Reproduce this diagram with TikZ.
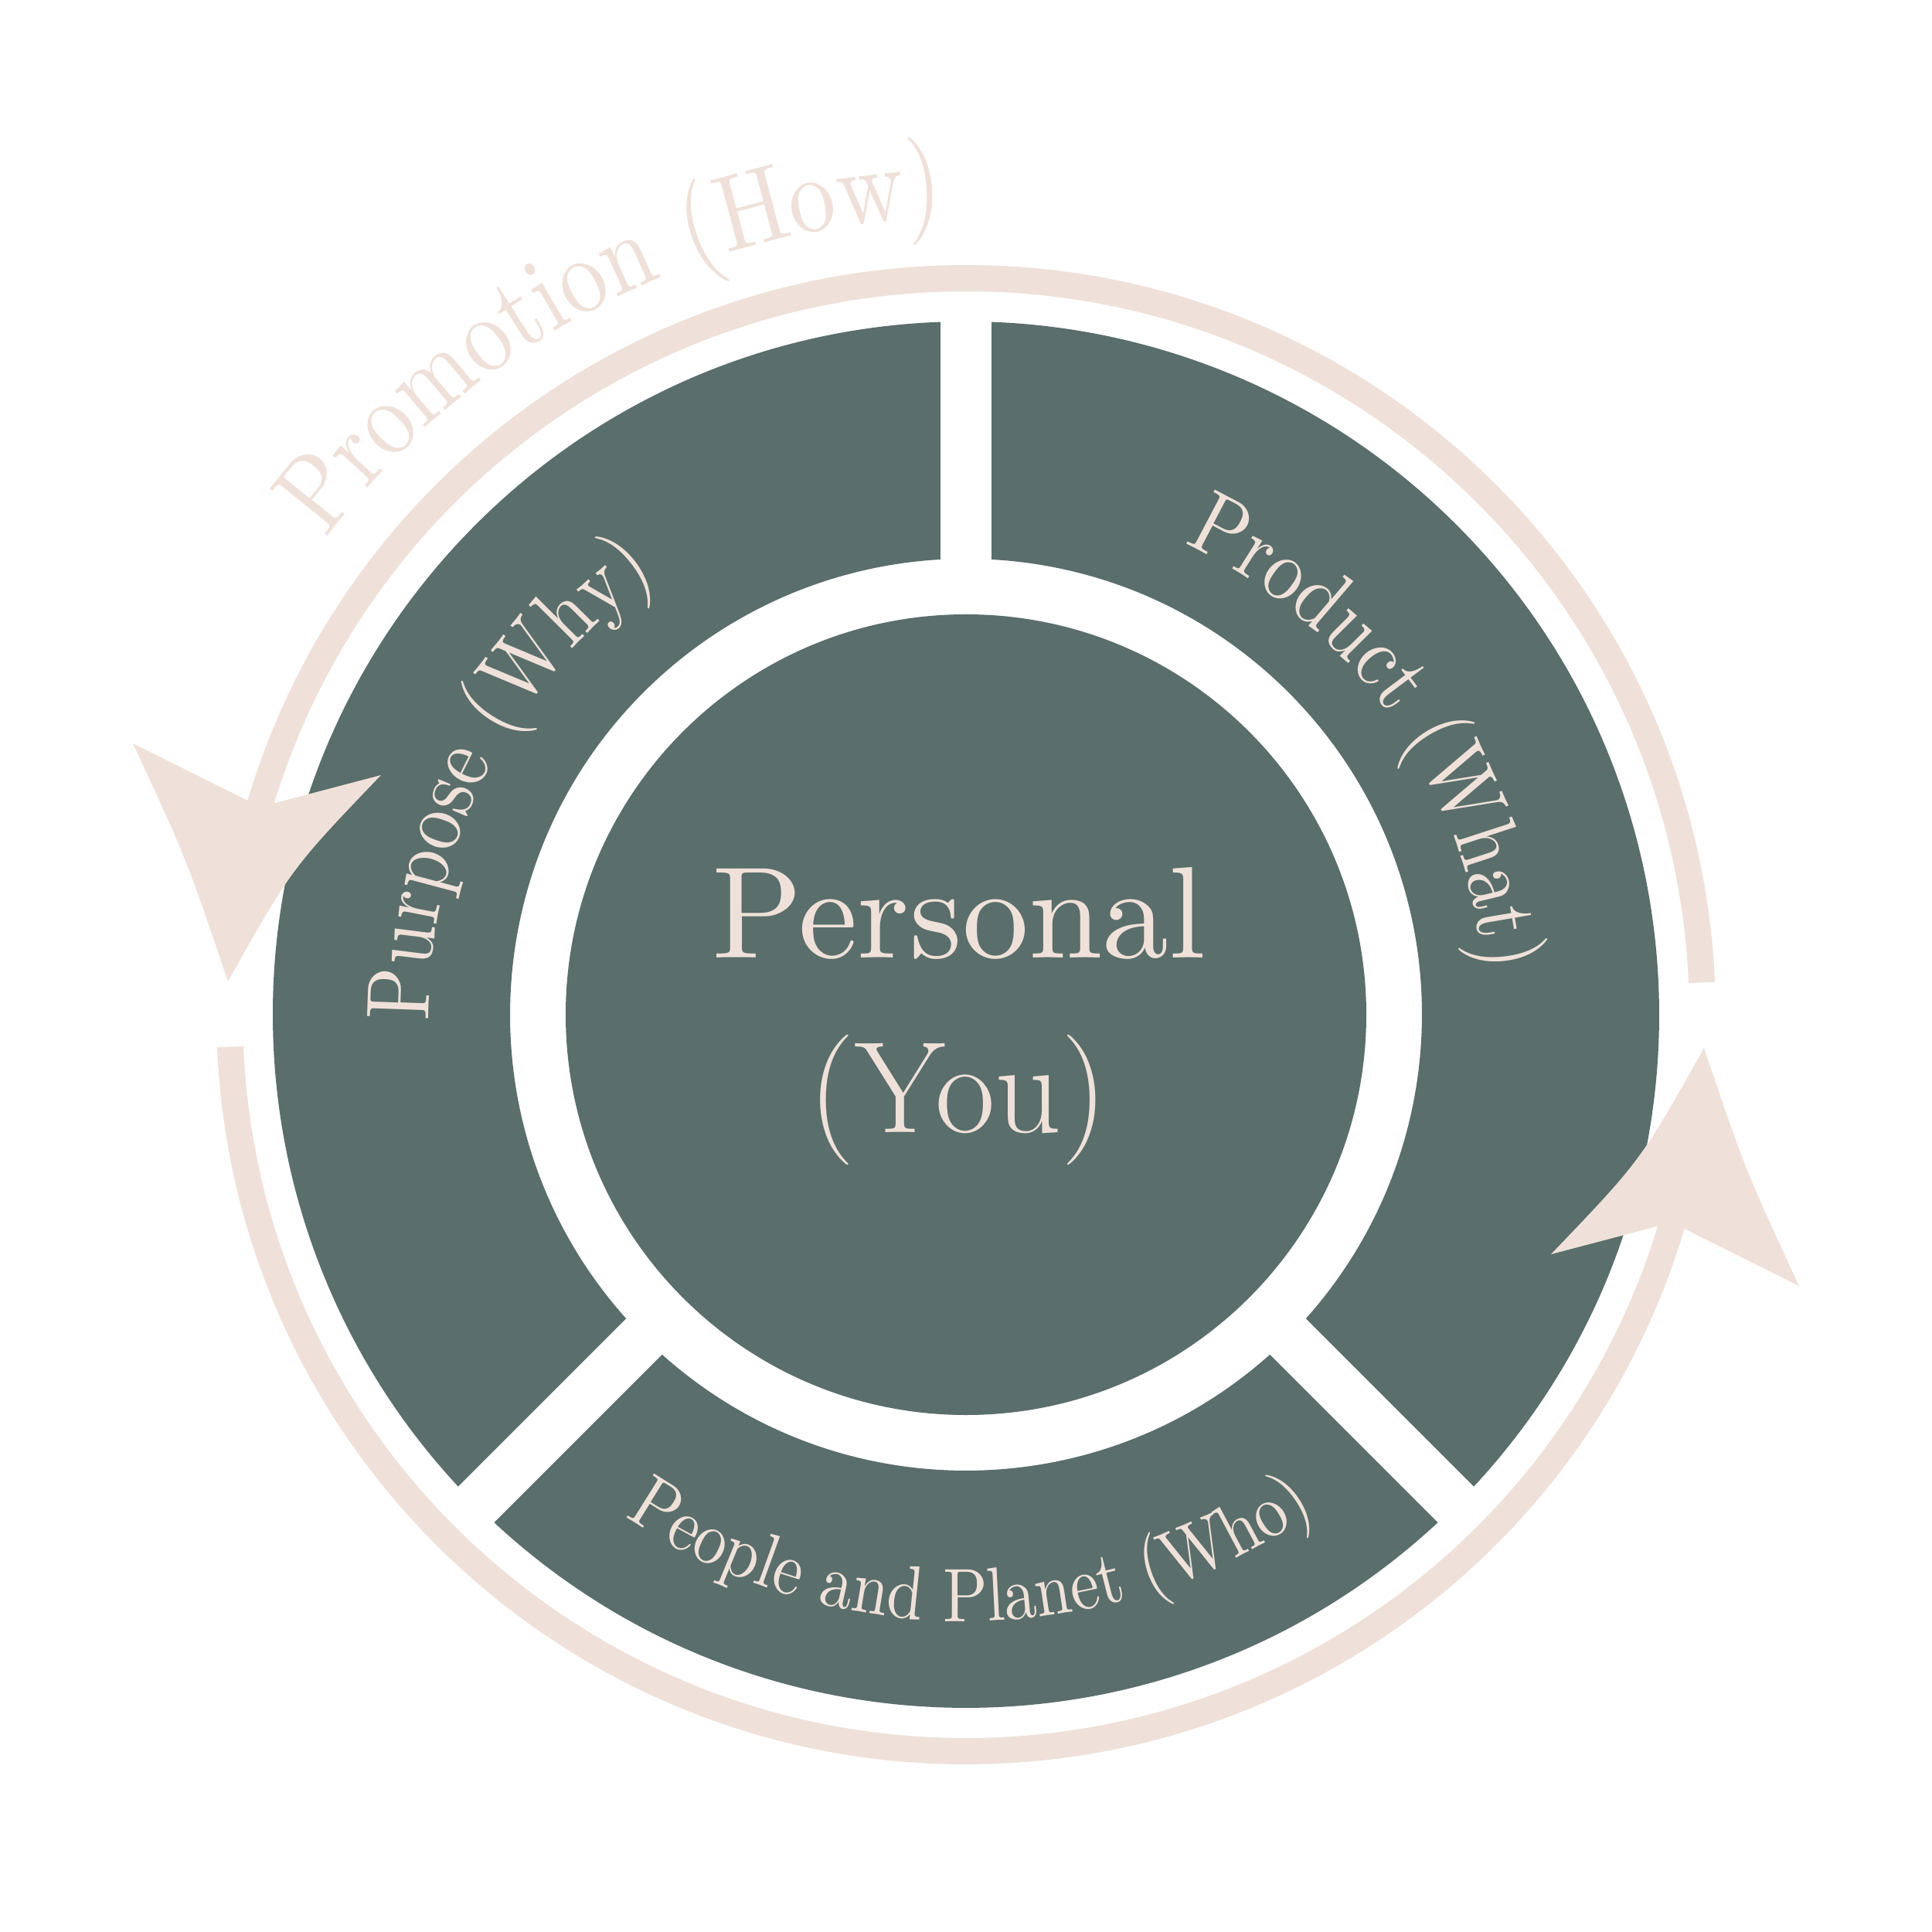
\documentclass[tikz,border=0pt]{standalone}
\usepackage{fontspec}
\usetikzlibrary{decorations.text}
\newfontfamily\ringfont{lmroman10-regular.otf}[FakeStretch=0.86]
\newfontfamily\widefont{lmroman10-regular.otf}[FakeStretch=1.02]
\definecolor{slate}{HTML}{5A6E6B}
\definecolor{blush}{HTML}{EFE1D9}

\begin{document}
\begin{tikzpicture}[
      segment/.style={fill=slate},
      loopline/.style={draw=blush, line width=0.34cm},
      arrowtip/.style={fill=blush},
      bigtext/.style={text=blush, inner sep=0pt, font=\fontsize{48}{58}\selectfont},
      ringtext/.style={decorate, decoration={text along path, text align=center, text color=blush}},
    ]
    % canvas, 1 px of the 2500 px image = 0.01 cm
    \fill[white] (-12.50,-11.87) rectangle (12.50,13.13);
    \useasboundingbox (-12.50,-11.87) rectangle (12.50,13.13);

    % centre disc
    \fill[segment] (0,0) circle (5.18);

    % ring cut into three parts by the gaps at 90, 225 and 315 degrees
    \foreach \s/\e in {90/225, 225/315, 315/450} {
      \fill[segment] ({\s+2.11}:8.97) arc[start angle=\s+2.11, end angle=\e-2.11, radius=8.97]
        -- ({\e-3.21}:5.90) arc[start angle=\e-3.21, end angle=\s+3.21, radius=5.90] -- cycle;
    }

    % outer loop: two arcs, each one ends in a swept arrowhead
    \foreach \r in {0,180} {
      \begin{scope}[rotate=\r]
        \draw[loopline] (2.5:9.53) arc[start angle=2.5, end angle=165, radius=9.53];
        \fill[arrowtip] (-10.78,3.51) -- (163.4:9.70) -- (163.0:9.36) -- (-7.57,3.10)
          .. controls (-8.73,1.89) .. (-9.55,0.43)
          .. controls (-10.08,2.00) .. (-10.78,3.51) -- cycle;
      \end{scope}
    }

    % centre label
    \node[bigtext, anchor=base, font=\widefont\fontsize{48}{58}\selectfont] (personal) at (-0.09,0.73) {Personal};
    \node[bigtext, anchor=base] (you) at (-0.10,-1.52) {(You)};

    % labels bent along the ring and the loop
    \path[ringtext, decoration={text={|\ringfont\fontsize{33}{40}\selectfont|Purpose (Why)}}]
      (200:6.95) arc[start angle=200, end angle=106, radius=6.95];
    \path[ringtext, decoration={text={|\ringfont\fontsize{33}{40}\selectfont|Product (What)}}]
      (85:6.72) arc[start angle=85, end angle=-15, radius=6.72];
    \path[ringtext, decoration={text={|\ringfont\fontsize{28}{34}\selectfont|People and Planet (Who)}}]
      (220:7.85) arc[start angle=220, end angle=321, radius=7.85];
    \path[ringtext, decoration={text={|\ringfont\fontsize{40}{48}\selectfont|Promotion (How)}}]
      (169:10.32) arc[start angle=169, end angle=66, radius=10.32];
  \end{tikzpicture}
\end{document}
